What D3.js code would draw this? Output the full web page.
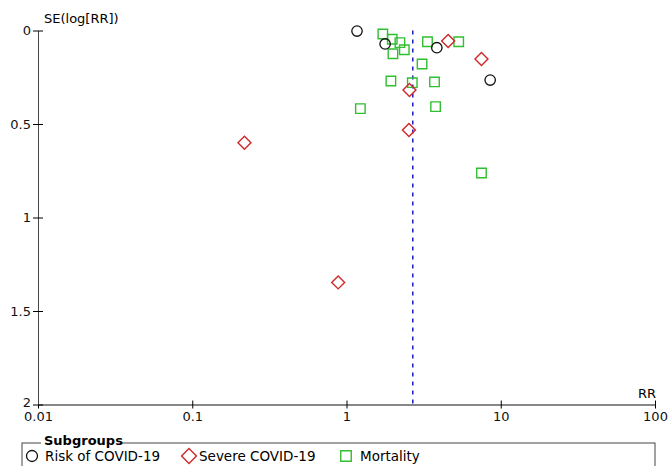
<!DOCTYPE html>
<html>
<head>
<meta charset="utf-8">
<script src="https://cdn.jsdelivr.net/npm/d3@7"></script>
<style>
  body { margin: 0; background: #fff; }
  text { font-family: "DejaVu Sans", sans-serif; }
</style>
</head>
<body>
<script>
// Funnel plot data: RR and SE(log[RR]) per subgroup
const riskRR = [1.17, 1.78, 3.85, 8.54];
const riskSE = [0.003, 0.072, 0.092, 0.265];

const severeRR = [4.56, 7.5, 0.218, 2.54, 0.883, 2.56];
const severeSE = [0.056, 0.152, 0.6, 0.532, 1.347, 0.318];

const mortRR = [1.72, 1.98, 2.22, 2.37, 2.0, 3.35, 5.34, 3.09, 1.94, 2.67, 3.72, 1.23, 3.78, 7.5];
const mortSE = [0.019, 0.047, 0.065, 0.103, 0.124, 0.06, 0.06, 0.179, 0.27, 0.279, 0.275, 0.418, 0.407, 0.762];

const pooledRR = 2.69;

const xTicks = [0.01, 0.1, 1, 10, 100];
const yTicks = [0, 0.5, 1, 1.5, 2];

const legendLabels = ["Risk of COVID-19", "Severe COVID-19", "Mortality"];

const width = 668, height = 466;
const svg = d3.select("body").append("svg")
  .attr("width", width)
  .attr("height", height);

const x = d3.scaleLog().domain([0.01, 100]).range([38, 655]);
const y = d3.scaleLinear().domain([0, 2]).range([30.5, 404.5]);

// x axis
const xAxis = svg.append("g")
  .attr("transform", `translate(0,${y(2)})`)
  .call(d3.axisBottom(x).tickValues(xTicks).tickFormat(d => String(d)).tickSizeOuter(0).tickSizeInner(4).tickPadding(3));
xAxis.selectAll(".tick line").attr("y1", -4).attr("y2", 4);
xAxis.select(".domain").attr("stroke", "#111");
xAxis.selectAll("text").style("font-size", "13px").attr("fill", "#111");

// y axis
const yAxis = svg.append("g")
  .attr("transform", `translate(${x(0.01)},0)`)
  .call(d3.axisLeft(y).tickValues(yTicks).tickFormat(d3.format("")).tickSizeOuter(0).tickSizeInner(5).tickPadding(2));
yAxis.selectAll(".tick line").attr("x1", -5).attr("x2", 5);
yAxis.select(".domain").attr("stroke", "#444");
yAxis.selectAll("text").style("font-size", "13px").attr("fill", "#111");
// nudge the bottom label up so it clears "0.01"
yAxis.selectAll("text").filter(d => d === 2).attr("dy", "0.15em");

// axis titles
svg.append("text")
  .attr("x", 44).attr("y", 23)
  .style("font-size", "13px")
  .text("SE(log[RR])");

svg.append("text")
  .attr("x", 656).attr("y", 398)
  .attr("text-anchor", "end")
  .style("font-size", "13px")
  .text("RR");

// pooled estimate line
svg.append("line")
  .attr("x1", x(pooledRR)).attr("x2", x(pooledRR))
  .attr("y1", y(0)).attr("y2", y(2))
  .attr("stroke", "#1c1cc0")
  .attr("stroke-width", 1.5)
  .attr("stroke-dasharray", "4,5");

const green = "#2fbf2f", red = "#d02828";

// mortality squares
svg.selectAll(".mort")
  .data(d3.zip(mortRR, mortSE))
  .enter().append("path")
  .attr("d", d3.symbol().type(d3.symbolSquare).size(90))
  .attr("transform", d => `translate(${x(d[0])},${y(d[1])})`)
  .attr("fill", "none")
  .attr("stroke", green)
  .attr("stroke-width", 1.4);

// severe diamonds
svg.selectAll(".severe")
  .data(d3.zip(severeRR, severeSE))
  .enter().append("path")
  .attr("d", d3.symbol().type(d3.symbolSquare).size(84))
  .attr("transform", d => `translate(${x(d[0])},${y(d[1])}) rotate(45)`)
  .attr("fill", "none")
  .attr("stroke", red)
  .attr("stroke-width", 1.4);

// risk circles
svg.selectAll(".risk")
  .data(d3.zip(riskRR, riskSE))
  .enter().append("circle")
  .attr("cx", d => x(d[0]))
  .attr("cy", d => y(d[1]))
  .attr("r", 5.2)
  .attr("fill", "none")
  .attr("stroke", "#111")
  .attr("stroke-width", 1.3);

// legend box
const lg = svg.append("g");
lg.append("rect")
  .attr("x", 22).attr("y", 443)
  .attr("width", 633).attr("height", 40)
  .attr("fill", "none")
  .attr("stroke", "#444");
lg.append("rect")
  .attr("x", 41).attr("y", 436)
  .attr("width", 80).attr("height", 12)
  .attr("fill", "#fff");
lg.append("text")
  .attr("x", 44).attr("y", 445)
  .style("font-size", "13px")
  .style("font-weight", "bold")
  .text("Subgroups");

lg.append("circle")
  .attr("cx", 32).attr("cy", 456).attr("r", 5.5)
  .attr("fill", "none").attr("stroke", "#111").attr("stroke-width", 1.3);
lg.append("path")
  .attr("d", d3.symbol().type(d3.symbolSquare).size(110))
  .attr("transform", "translate(189,456) rotate(45)")
  .attr("fill", "none").attr("stroke", red).attr("stroke-width", 1.4);
lg.append("path")
  .attr("d", d3.symbol().type(d3.symbolSquare).size(110))
  .attr("transform", "translate(346,456)")
  .attr("fill", "none").attr("stroke", green).attr("stroke-width", 1.4);

const legX = [45, 199, 360];
lg.selectAll(".lt")
  .data(legendLabels)
  .enter().append("text")
  .attr("x", (d, i) => legX[i])
  .attr("y", 461)
  .style("font-size", "13.5px")
  .text(d => d);
</script>
</body>
</html>
